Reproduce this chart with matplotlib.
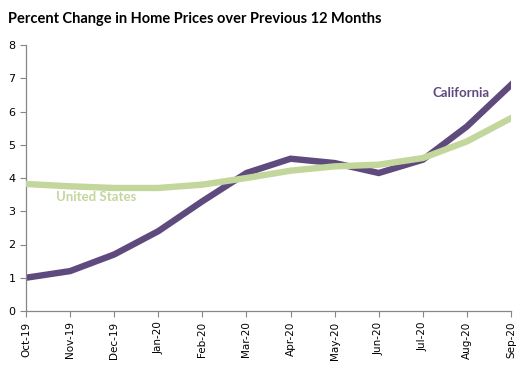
import matplotlib.pyplot as plt

months = ["Oct-19", "Nov-19", "Dec-19", "Jan-20", "Feb-20", "Mar-20",
          "Apr-20", "May-20", "Jun-20", "Jul-20", "Aug-20", "Sep-20"]
california = [1.0, 1.2, 1.7, 2.4, 3.3, 4.15, 4.58, 4.45, 4.15, 4.55, 5.55, 6.8]
united_states = [3.82, 3.75, 3.7, 3.7, 3.8, 4.0, 4.22, 4.35, 4.4, 4.6, 5.1, 5.8]

purple = "#5f4a7e"
green = "#c3d69b"
grey = "#868686"

fig = plt.figure(figsize=(5.28, 3.68), dpi=100)
ax = fig.add_axes([26 / 528, 57 / 368, 485 / 528, 266 / 368])

x = range(len(months))
ax.plot(x, california, color=purple, lw=4.6, solid_joinstyle="miter", zorder=2)
ax.plot(x, united_states, color=green, lw=4.6, zorder=3)

ax.set_xlim(0, len(months) - 1)
ax.set_ylim(0, 8)
ax.set_xticks(list(x))
ax.set_xticklabels(months, rotation=90, fontsize=7.5, family="DejaVu Sans")
ax.set_yticks(range(9))
ax.tick_params(axis="y", labelsize=8)
ax.tick_params(colors=grey, length=4, width=0.8, labelcolor="black")

for s in ["top", "right"]:
    ax.spines[s].set_visible(False)
for s in ["left", "bottom"]:
    ax.spines[s].set_color(grey)
    ax.spines[s].set_linewidth(0.9)

ax.text(9.23, 6.45, "California", color=purple, fontsize=9.5,
        fontweight="bold", family="Lato")
ax.text(0.68, 3.3, "United States", color=green, fontsize=9.5,
        fontweight="bold", family="Lato")

fig.text(8 / 528, 1 - 19 / 368, "Percent Change in Home Prices over Previous 12 Months",
         fontsize=10.5, fontweight="bold", family="Lato", va="center")

fig.savefig("out.png", dpi=100)
